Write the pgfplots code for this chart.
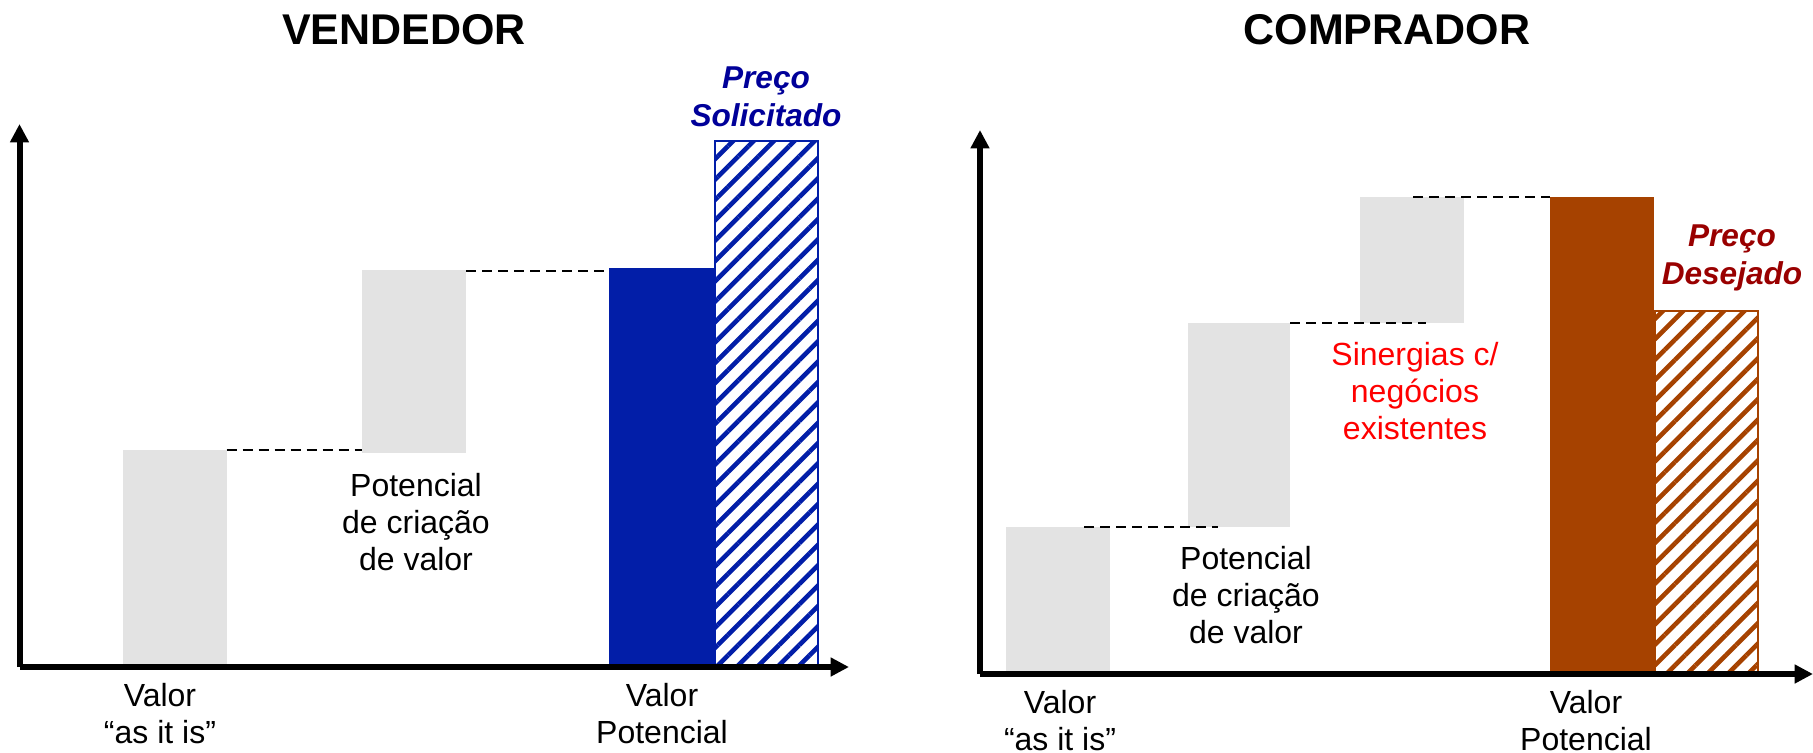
\documentclass[border=0pt]{standalone}
\usepackage{fontspec}
\setmainfont{Liberation Sans}
\usepackage{pgfplots}
\pgfplotsset{compat=1.18}
\usetikzlibrary{arrows.meta,patterns.meta}
\definecolor{grayC}{HTML}{E3E3E3}
\definecolor{blueC}{HTML}{021EA8}
\definecolor{navyT}{HTML}{000099}
\definecolor{brownC}{HTML}{A64200}
\definecolor{redT}{HTML}{FF0000}
\definecolor{darkredT}{HTML}{990000}
\pgfplotsset{
  chartbase/.style={
    scale only axis,
    axis lines=left, axis on top,
    axis line style={line width=1.5pt,-{Triangle[length=4.6pt,width=4.5pt]}},
    xtick=\empty, ytick=\empty, ymin=0, clip=false,
    anchor=south west,
  },
  dashconn/.style={black, line width=0.5pt, dash pattern=on 2.5pt off 1.5pt},
}
\tikzset{
  lbl/.style={font=\fontsize{8}{9.25}\selectfont, align=center},
  ttl/.style={font=\fontsize{10.75}{12}\selectfont\bfseries},
  prc/.style={font=\fontsize{7.9}{9.5}\selectfont\bfseries\itshape, align=center},
}
\begin{document}
\begin{tikzpicture}
\useasboundingbox (0,0) rectangle (453.25pt,-188pt);
% ---------------- VENDEDOR ----------------
\begin{axis}[chartbase, at={(4.875pt,-166.75pt)}, width=207.375pt, height=135.75pt,
  xmin=19.5, xmax=849, ymax=543]
  \addplot[fill=grayC, draw=none] coordinates {(122.6,0) (226.6,0) (226.6,217) (122.6,217)} -- cycle;
  \addplot[fill=grayC, draw=none] coordinates {(362,214) (466,214) (466,397) (362,397)} -- cycle;
  \addplot[fill=blueC, draw=none] coordinates {(609,0) (714,0) (714,399) (609,399)} -- cycle;
  \addplot[draw=blueC, line width=0.5pt, pattern={Lines[angle=45,distance=3.6pt,line width=1.15pt]}, pattern color=blueC]
    coordinates {(714.5,0) (818,0) (818,526) (714.5,526)} -- cycle;
  \addplot[dashconn] coordinates {(226.6,217) (362,217)};
  \addplot[dashconn] coordinates {(466,396) (609,396)};
  \node[ttl] at (404,637) {VENDEDOR};
  \node[prc, text=navyT] at (766,570) {Preço\\Solicitado};
  \node[lbl] at (416,145) {Potencial\\de criação\\de valor};
  \node[lbl] at (160,-47) {Valor\\“as it is”};
  \node[lbl] at (662,-47) {Valor\\Potencial};
\end{axis}
% ---------------- COMPRADOR ----------------
\begin{axis}[chartbase, at={(245pt,-168.5pt)}, width=208.25pt, height=136pt,
  xmin=980, xmax=1813, ymax=544]
  \addplot[fill=grayC, draw=none] coordinates {(1006,0) (1110,0) (1110,147) (1006,147)} -- cycle;
  \addplot[fill=grayC, draw=none] coordinates {(1187.5,147) (1290,147) (1290,351) (1187.5,351)} -- cycle;
  \addplot[fill=grayC, draw=none] coordinates {(1360,351) (1464,351) (1464,477) (1360,477)} -- cycle;
  \addplot[fill=brownC, draw=none] coordinates {(1549.5,0) (1654,0) (1654,477) (1549.5,477)} -- cycle;
  \addplot[draw=brownC, line width=0.5pt, pattern={Lines[angle=45,distance=3.6pt,line width=1.15pt]}, pattern color=brownC]
    coordinates {(1654.5,0) (1757.5,0) (1757.5,363) (1654.5,363)} -- cycle;
  \addplot[dashconn] coordinates {(1084,147) (1218,147)};
  \addplot[dashconn] coordinates {(1290,351) (1426,351)};
  \addplot[dashconn] coordinates {(1413,477) (1549.5,477)};
  \node[ttl] at (1387,644) {COMPRADOR};
  \node[lbl, text=redT] at (1415,283) {Sinergias c/\\negócios\\existentes};
  \node[lbl] at (1246,79) {Potencial\\de criação\\de valor};
  \node[prc, text=darkredT] at (1732,416) {Preço\\Desejado};
  \node[lbl] at (1060,-47) {Valor\\“as it is”};
  \node[lbl] at (1586,-47) {Valor\\Potencial};
\end{axis}
\end{tikzpicture}
\end{document}
